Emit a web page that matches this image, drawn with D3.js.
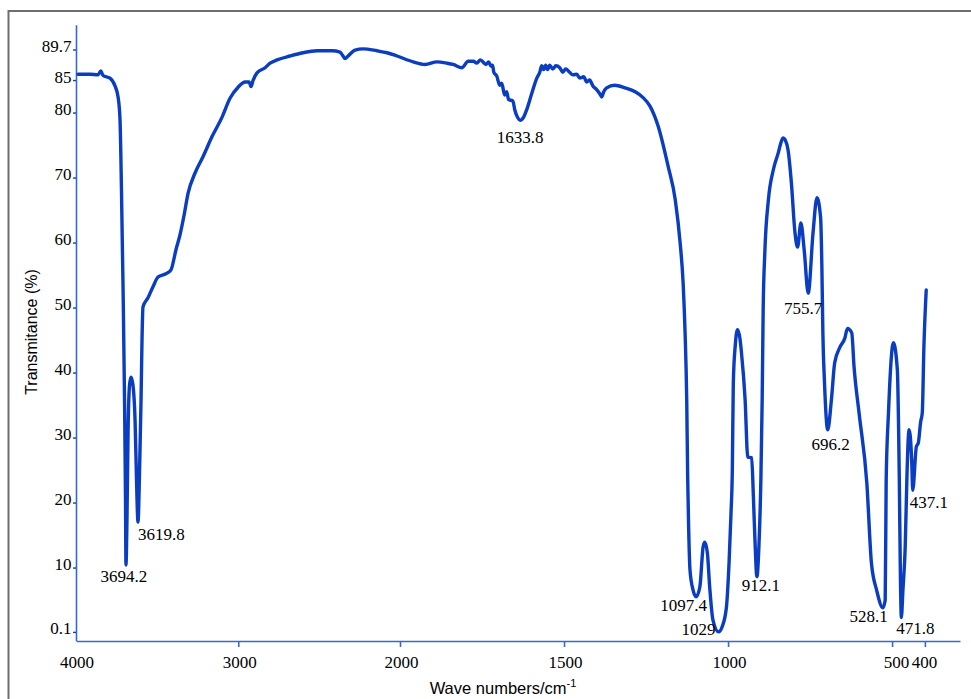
<!DOCTYPE html>
<html><head><meta charset="utf-8">
<script src="https://cdn.jsdelivr.net/npm/d3@7"></script>
<style>html,body{margin:0;padding:0;background:#fff;}svg{display:block;}
.serif{font-family:"Liberation Serif","Tinos","Times New Roman","DejaVu Serif",serif;}
.sans{font-family:"Liberation Sans","Arimo",Arial,"DejaVu Sans",sans-serif;}
</style>
</head><body>
<svg id="chart" width="971" height="699"></svg>
<script>
// ---- data ----
const wavenumbers = [3991,3917,3867,3850,3836,3793,3762,3743,3731,3722,3712,3703,3697,3694.2,3688,3681,3672,3663,3651,3638,3629,3619.8,3610,3601,3595,3589,3558,3527,3496,3447,3416,3385,3360,3335,3310,3267,3218,3162,3100,3051,3001,2958,2933,2921,2909,2884,2834,2803,2760,2680,2600,2513,2420,2371,2352,2340,2321,2278,2228,2142,2080,2018,1960,1924,1887,1857,1838,1811,1792,1776,1766,1755,1738,1730,1722,1718,1714,1705,1696,1690,1681,1675,1669,1656,1650,1641,1633.8,1623,1614,1598,1583,1574,1568,1562,1556,1550,1544,1534,1525,1513,1504,1495,1483,1473,1461,1452,1440,1431,1422,1412,1400,1391,1385,1379,1370,1346,1314,1283,1259,1238,1213,1183,1161,1146,1137,1131,1126,1123,1120,1116,1107,1097.4,1086,1076,1071,1063,1056,1046,1029,1018,1005,997,991,987,984,978,971,964,959,948,940,928,923,918,912.1,906,900,896,893,888,877,862,847,838,832,826,817,807,796,788,778,768,755.7,741,729,718,714,711,706,696.2,685,675,659,644,636,623,616,600,577,563,547,528.1,521,518,511,496,484,478,474.5,471.8,467,460,455,451,448,440,437.1,426,420,413,408,403,396];
const transmittance = [85.9,85.9,85.8,86.4,85.7,85.3,84.1,82.4,78.9,68.1,52.7,35.8,20.4,10.4,17.3,31.2,38.1,39.3,38.1,32.7,23.5,17.0,25.0,35.8,45.0,50.1,51.5,53.2,54.7,55.2,55.8,58.9,61.2,64.2,67.6,70.7,73.2,76.3,79.3,82.2,83.9,84.7,84.7,84.0,84.9,86.1,86.9,87.6,88.1,88.7,89.2,89.5,89.5,89.3,88.7,88.3,88.7,89.6,89.8,89.5,89.2,88.7,87.8,87.4,87.8,87.6,87.4,86.9,87.9,87.9,87.6,88.1,87.4,87.8,87.1,87.3,86.2,85.6,84.2,84.5,82.7,83.2,82.0,81.8,80.4,79.2,78.8,79.3,80.4,83.0,85.3,86.2,87.2,86.6,87.3,86.6,87.3,86.7,87.2,86.9,86.2,86.7,86.2,85.8,85.9,85.3,85.5,84.7,85.0,84.1,83.5,82.9,82.4,83.2,83.8,84.2,83.8,83.2,82.3,81.0,77.9,71.8,66.6,59.9,53.8,46.1,35.8,23.5,15.8,9.6,6.6,5.5,7.0,13.2,13.9,12.2,7.0,1.9,0.1,0.9,3.9,10.7,18.4,25.0,38.4,44.2,46.6,45.3,43.0,35.8,27.0,26.9,21.2,14.2,8.6,13.2,23.5,35.8,49.6,58.4,66.6,71.2,73.8,75.5,76.1,75.8,74.2,69.2,61.5,59.3,63.0,58.9,52.2,61.5,66.9,63.9,56.2,46.1,38.4,31.2,35.8,41.5,43.9,45.3,46.8,46.1,40.9,33.5,23.0,10.7,6.5,3.8,5.0,23.5,33.8,44.6,40.4,23.5,8.0,2.3,6.5,13.2,23.5,29.6,31.2,26.1,21.9,28.6,29.2,32.4,33.8,44.0,52.7];
const xTickValues = [4000,3000,2000,1500,1000,500,400];
const yTickValues = [0.1,10,20,30,40,50,60,70,80,85,89.7];
const peakWavenumbers = [3694.2,3619.8,1633.8,1097.4,1029,912.1,755.7,696.2,528.1,471.8,437.1];
const peakLabels = ["3694.2","3619.8","1633.8","1097.4","1029","912.1","755.7","696.2","528.1","471.8","437.1"];

// ---- layout / style ----
const svg = d3.select("#chart");
const curveColor = "#0a3dbf";
const axisColor = "#3468d2";

svg.append("rect").attr("x",8.5).attr("y",11).attr("width",1000).attr("height",720)
  .attr("fill","none").attr("stroke","#6e6e6e").attr("stroke-width",2);

const x = d3.scaleLinear().domain([4000,2000,293]).range([76.5,400,960]);
const y = d3.scaleLinear().domain([-1.3,93.5]).range([641,24.8]);

// x axis
const xAxis = svg.append("g").attr("transform","translate(0,641)")
  .call(d3.axisBottom(x).tickValues(xTickValues).tickSize(6).tickSizeOuter(0).tickFormat(d3.format("d")));
xAxis.attr("font-family",null).attr("font-size",null);
xAxis.select(".domain").attr("stroke",axisColor).attr("stroke-width",1.6);
xAxis.selectAll(".tick line").attr("stroke",axisColor).attr("stroke-width",1.6);
xAxis.selectAll(".tick text").attr("class","serif").attr("fill","#000").style("font-size","17px")
  .attr("y",27).attr("dy",0)
  .attr("dx",d => d===500 ? 4 : (d===400 ? -1 : (d===4000 ? 0 : 1)));
xAxis.selectAll(".tick").filter(d => d===4000).select("line").remove();

// y axis
const yAxis = svg.append("g").attr("transform","translate(76,0)")
  .call(d3.axisLeft(y).tickValues(yTickValues).tickSize(3).tickSizeOuter(0).tickPadding(1.5)
    .tickFormat(d => String(d)));
yAxis.attr("font-family",null).attr("font-size",null);
yAxis.select(".domain").attr("stroke",axisColor).attr("stroke-width",1.6);
yAxis.selectAll(".tick line").attr("stroke","#1d3f9a").attr("stroke-width",1.4);
yAxis.selectAll(".tick text").attr("class","serif").attr("fill","#000").style("font-size","17px")
  .attr("dy","0.12em");

// axis titles
const xt = svg.append("text").attr("class","sans").attr("x",503).attr("y",694).attr("text-anchor","middle")
  .style("font-size","16.5px").attr("fill","#000");
xt.append("tspan").text("Wave numbers/cm");
xt.append("tspan").attr("dy",-7).style("font-size","11px").text("-1");
svg.append("text").attr("class","sans").attr("transform","translate(37,332) rotate(-90)").attr("text-anchor","middle")
  .style("font-size","16px").attr("fill","#000").text("Transmitance (%)");

// spectrum
const pts = wavenumbers.map((w,i) => [w, transmittance[i]]);
const line = d3.line().x(d => x(d[0])).y(d => y(d[1])).curve(d3.curveMonotoneX);
svg.append("path").datum(pts).attr("d",line).attr("fill","none")
  .attr("stroke",curveColor).attr("stroke-width",3.4).attr("stroke-linejoin","round").attr("stroke-linecap","round");

// peak labels (offsets relative to each peak minimum)
const labelOffsets = {
  "3694.2":{dx:-2,dy:17,a:"middle"}, "3619.8":{dx:0,dy:18,a:"start"}, "1633.8":{dx:0,dy:23,a:"middle"},
  "1097.4":{dx:11,dy:14,a:"end"}, "1029":{dx:-3,dy:3,a:"end"}, "912.1":{dx:4,dy:14,a:"middle"},
  "755.7":{dx:-5,dy:21,a:"middle"}, "696.2":{dx:3,dy:20,a:"middle"}, "528.1":{dx:5,dy:14,a:"end"},
  "471.8":{dx:-5,dy:16,a:"start"}, "437.1":{dx:-3,dy:18,a:"start"}
};
peakWavenumbers.forEach((w,i) => {
  const t = transmittance[wavenumbers.indexOf(w)];
  const o = labelOffsets[peakLabels[i]];
  svg.append("text").attr("class","serif").attr("x",x(w)+o.dx).attr("y",y(t)+o.dy).attr("text-anchor",o.a)
    .style("font-size","17px").attr("fill","#000").text(peakLabels[i]);
});
</script>
</body></html>
